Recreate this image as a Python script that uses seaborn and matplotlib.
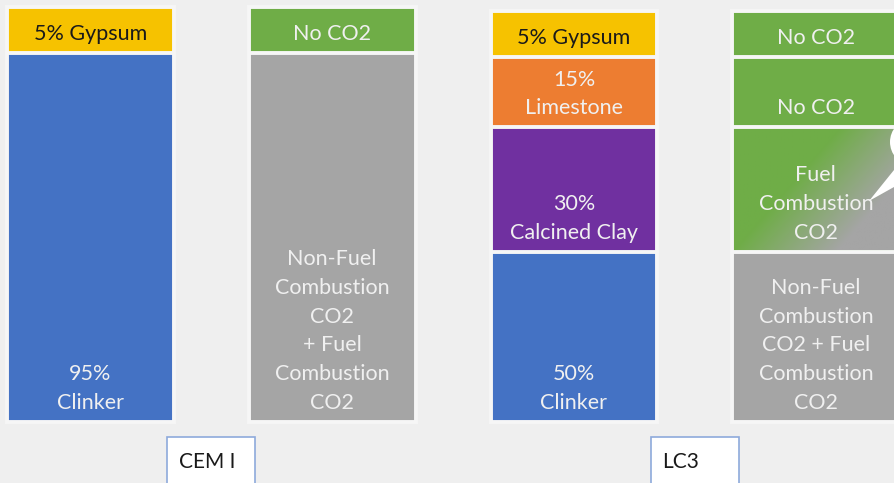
import numpy as np
import pandas as pd
import matplotlib.pyplot as plt
import seaborn as sns
from matplotlib.patches import Rectangle, Polygon, Ellipse


# bars, left to right (bottom segment first)
bar_ids = ['CEM I mix', 'CEM I CO2', 'LC3 mix', 'LC3 CO2']

cem_values = [89, 11]
cem_labels = ['95%\nClinker', '5% Gypsum']
cem_co2_values = [89, 11]
cem_co2_labels = ['Non-Fuel\nCombustion\nCO2\n+ Fuel\nCombustion\nCO2', 'No CO2']
lc3_values = [41, 30, 17, 11]
lc3_labels = ['50%\nClinker', '30%\nCalcined Clay', '15%\nLimestone', '5% Gypsum']
lc3_co2_values = [41, 30, 17, 11]
lc3_co2_labels = ['Non-Fuel\nCombustion\nCO2 + Fuel\nCombustion\nCO2', 'Fuel\nCombustion\nCO2',
                  'No CO2', 'No CO2']

group_names = ['CEM I', 'LC3']

# colours
blue, yellow, orange, purple = '#4472c4', '#f6c200', '#ed7d31', '#7030a0'
gray, green = '#a5a5a5', '#6fad47'
bg = '#efefef'
seg_colors = [[blue, yellow], [gray, green], [blue, purple, orange, yellow], [gray, green, green, green]]
dark_text = ['5% Gypsum']

all_values = [cem_values, cem_co2_values, lc3_values, lc3_co2_values]
all_labels = [cem_labels, cem_co2_labels, lc3_labels, lc3_co2_labels]

plt.rcParams['font.family'] = ['Lato', 'DejaVu Sans']

fig = plt.figure(figsize=(8.94, 4.83), dpi=100)
fig.patch.set_facecolor(bg)
ax = fig.add_axes([0, 0, 1, 1])
ax.set_facecolor(bg)

bar_w = 0.69
n_layers = max(len(v) for v in all_values)

# stacked bars: draw the tallest cumulative layer first, lower layers on top
for k in range(n_layers - 1, -1, -1):
    xs, ys, pal = [], [], {}
    for b, vals in enumerate(all_values):
        if k < len(vals):
            xs.append(bar_ids[b])
            ys.append(sum(vals[:k + 1]))
            pal[bar_ids[b]] = seg_colors[b][k]
    sns.barplot(x=xs, y=ys, hue=xs, palette=pal, order=bar_ids, hue_order=xs,
                saturation=1, width=bar_w, edgecolor='#f6f6f6', linewidth=2.8,
                legend=False, ax=ax)

# shaded corner on the fuel combustion segment
b, k = 3, 1
y0 = sum(all_values[b][:k]) + 0.5
y1 = sum(all_values[b][:k + 1]) - 0.5
u = np.linspace(0, 1, 120)[None, :]
v = np.linspace(0, 1, 120)[:, None]
t = np.clip((u * 1.1 + v * 0.7 - 0.7) / 0.7, 0, 1)
c_green = np.array([0x6f, 0xad, 0x47]) / 255
c_gray = np.array([0xa5, 0xa5, 0xa5]) / 255
img = c_green * (1 - t[..., None]) + c_gray * t[..., None]
ax.imshow(img, extent=(b - bar_w / 2 + 0.006, b + bar_w / 2 - 0.006, y0, y1), origin='upper',
          aspect='auto', zorder=3)

# segment labels
for b, (vals, labs) in enumerate(zip(all_values, all_labels)):
    bottom = 0
    for val, lab in zip(vals, labs):
        col = '#1a1a1a' if lab in dark_text else '#f0f0f0'
        ax.annotate(lab, xy=(b, bottom), xytext=(0, 6.5), textcoords='offset points',
                    ha='center', va='bottom', fontsize=15.5, color=col,
                    linespacing=1.55, zorder=5)
        bottom += val

# group name boxes under each pair
for g, name in enumerate(group_names):
    cx = 2 * g + 0.5
    ax.add_patch(Rectangle((cx - 0.183, -15.5), 0.366, 11.9, facecolor='white',
                           edgecolor='#8eaadb', linewidth=1.2, zorder=4))
    ax.annotate(name, xy=(cx - 0.183, -9.6), xytext=(8.5, 0), textcoords='offset points',
                ha='left', va='center', fontsize=15, color='#1a1a1a', zorder=5)

# callout tail poking in from the right
tr = fig.transFigure
W, H = 894, 483
ax.add_patch(Ellipse((910 / W, 1 - 142 / H), 40 / W, 44 / H, transform=tr,
                     facecolor='white', edgecolor='none', zorder=6, clip_on=False))
ax.add_patch(Polygon([(894 / W, 1 - 170 / H), (869 / W, 1 - 201 / H), (894 / W, 1 - 187 / H)],
                     closed=True, transform=tr, facecolor='white', edgecolor='none',
                     zorder=6, clip_on=False))

ax.set_xlim(-0.3727, 3.323)
ax.set_ylim(-14.7, 101.7)
ax.axis('off')

plt.savefig('out.png', dpi=100, facecolor=bg)
